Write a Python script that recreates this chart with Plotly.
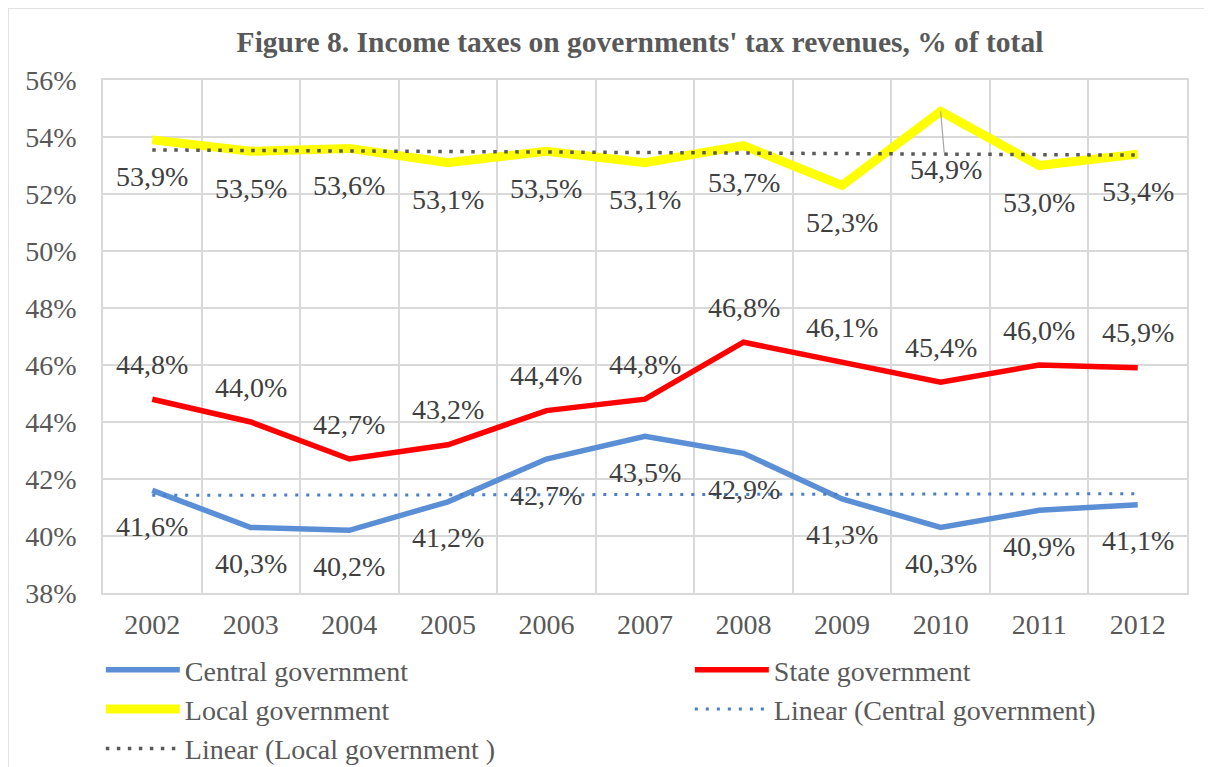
import numpy as np
import plotly.graph_objects as go

years = ["2002", "2003", "2004", "2005", "2006", "2007", "2008", "2009", "2010", "2011", "2012"]
central = [41.6, 40.3, 40.2, 41.2, 42.7, 43.5, 42.9, 41.3, 40.3, 40.9, 41.1]
state = [44.8, 44.0, 42.7, 43.2, 44.4, 44.8, 46.8, 46.1, 45.4, 46.0, 45.9]
local = [53.9, 53.5, 53.6, 53.1, 53.5, 53.1, 53.7, 52.3, 54.9, 53.0, 53.4]
y_ticks = [38, 40, 42, 44, 46, 48, 50, 52, 54, 56]

title = "Figure 8. Income taxes on governments' tax revenues, % of total"

# page body has an 8px margin, so the figure is drawn offset by (8, 8)
OFF = 8
W, H = 1212 - OFF, 767 - OFF
L, R, T, B = 103 - OFF, 25, 80 - OFF, 767 - 593
PW, PH = W - L - R, H - T - B

FONT = "Liberation Serif, Times New Roman, serif"
TXT = "#595959"
LBL = "#404040"
GRID = "#D9D9D9"

xi = np.arange(len(years))
def trend(vals):
    k, b = np.polyfit(xi, vals, 1)
    return [float(v) for v in (k * xi + b)]

fig = go.Figure()
fig.add_trace(go.Scatter(x=years, y=central, mode="lines", name="Central government",
                         line=dict(color="#5B8FD5", width=5.5)))
fig.add_trace(go.Scatter(x=years, y=state, mode="lines", name="State government",
                         line=dict(color="#FF0000", width=5.5)))
fig.add_trace(go.Scatter(x=years, y=local, mode="lines", name="Local government",
                         line=dict(color="#FFFF00", width=9)))
fig.add_trace(go.Scatter(x=years, y=trend(central), mode="lines", name="Linear (Central government)",
                         line=dict(color="#4A7EC8", width=3, dash="3px,8px")))
fig.add_trace(go.Scatter(x=years, y=trend(local), mode="lines", name="Linear (Local government )",
                         line=dict(color="#595959", width=3.5, dash="3.5px,7.5px")))

def fmt(v):
    return f"{v:.1f}".replace(".", ",") + "%"

lblfont = dict(family=FONT, size=28, color=LBL)
annotations = []
for i, v in enumerate(central):
    annotations.append(dict(x=i, y=v, xref="x", yref="y", text=fmt(v), showarrow=False,
                            yshift=-36, font=lblfont))
for i, v in enumerate(state):
    annotations.append(dict(x=i, y=v, xref="x", yref="y", text=fmt(v), showarrow=False,
                            yshift=35, font=lblfont))
peak = int(np.argmax(local))
for i, v in enumerate(local):
    if i == peak:
        annotations.append(dict(x=i, y=v, xref="x", yref="y", text=fmt(v), showarrow=True,
                                arrowhead=0, arrowcolor="#A6A6A6", arrowwidth=1.2,
                                ax=5, ay=58, font=lblfont))
    else:
        annotations.append(dict(x=i, y=v, xref="x", yref="y", text=fmt(v), showarrow=False,
                                yshift=-37, font=lblfont))

fig.update_layout(
    width=W, height=H,
    margin=dict(l=L, r=R, t=T, b=B, autoexpand=False),
    paper_bgcolor="white", plot_bgcolor="white",
    font=dict(family=FONT, size=28, color=TXT),
    title=dict(text="<b>" + title + "</b>", x=(640 - OFF) / W, xanchor="center",
               y=1 - (42 - OFF) / H, yanchor="middle",
               font=dict(family=FONT, size=29.5, color=TXT)),
    xaxis=dict(type="category", range=[-0.5, len(years) - 0.5], tickson="boundaries",
               showgrid=True, gridcolor=GRID, gridwidth=1.5,
               showline=True, linecolor=GRID, linewidth=1.5, mirror=True,
               ticks="", ticklabelstandoff=6,
               tickfont=dict(family=FONT, size=28, color=TXT)),
    yaxis=dict(range=[38, 56], tickvals=y_ticks, ticktext=[f"{t}%" for t in y_ticks],
               showgrid=True, gridcolor=GRID, gridwidth=1.5,
               showline=True, linecolor=GRID, linewidth=1.5, mirror=True,
               zeroline=False, ticks="", ticklabelstandoff=19,
               tickfont=dict(family=FONT, size=28, color=TXT)),
    legend=dict(orientation="h", x=-0.002, xanchor="left",
                y=-(645 - 593) / PH, yanchor="top",
                entrywidth=500, entrywidthmode="pixels", tracegroupgap=0,
                itemwidth=74,
                font=dict(family=FONT, size=28, color=TXT),
                bgcolor="rgba(0,0,0,0)"),
    annotations=annotations,
    shapes=[dict(type="rect", xref="paper", yref="paper",
                 x0=-L / PW, x1=(W + 20 - L) / PW,
                 y0=-(B + 20) / PH, y1=(PH + T) / PH,
                 line=dict(color=GRID, width=1.5), fillcolor="rgba(0,0,0,0)",
                 layer="below")],
)

fig.write_html("out.html")
